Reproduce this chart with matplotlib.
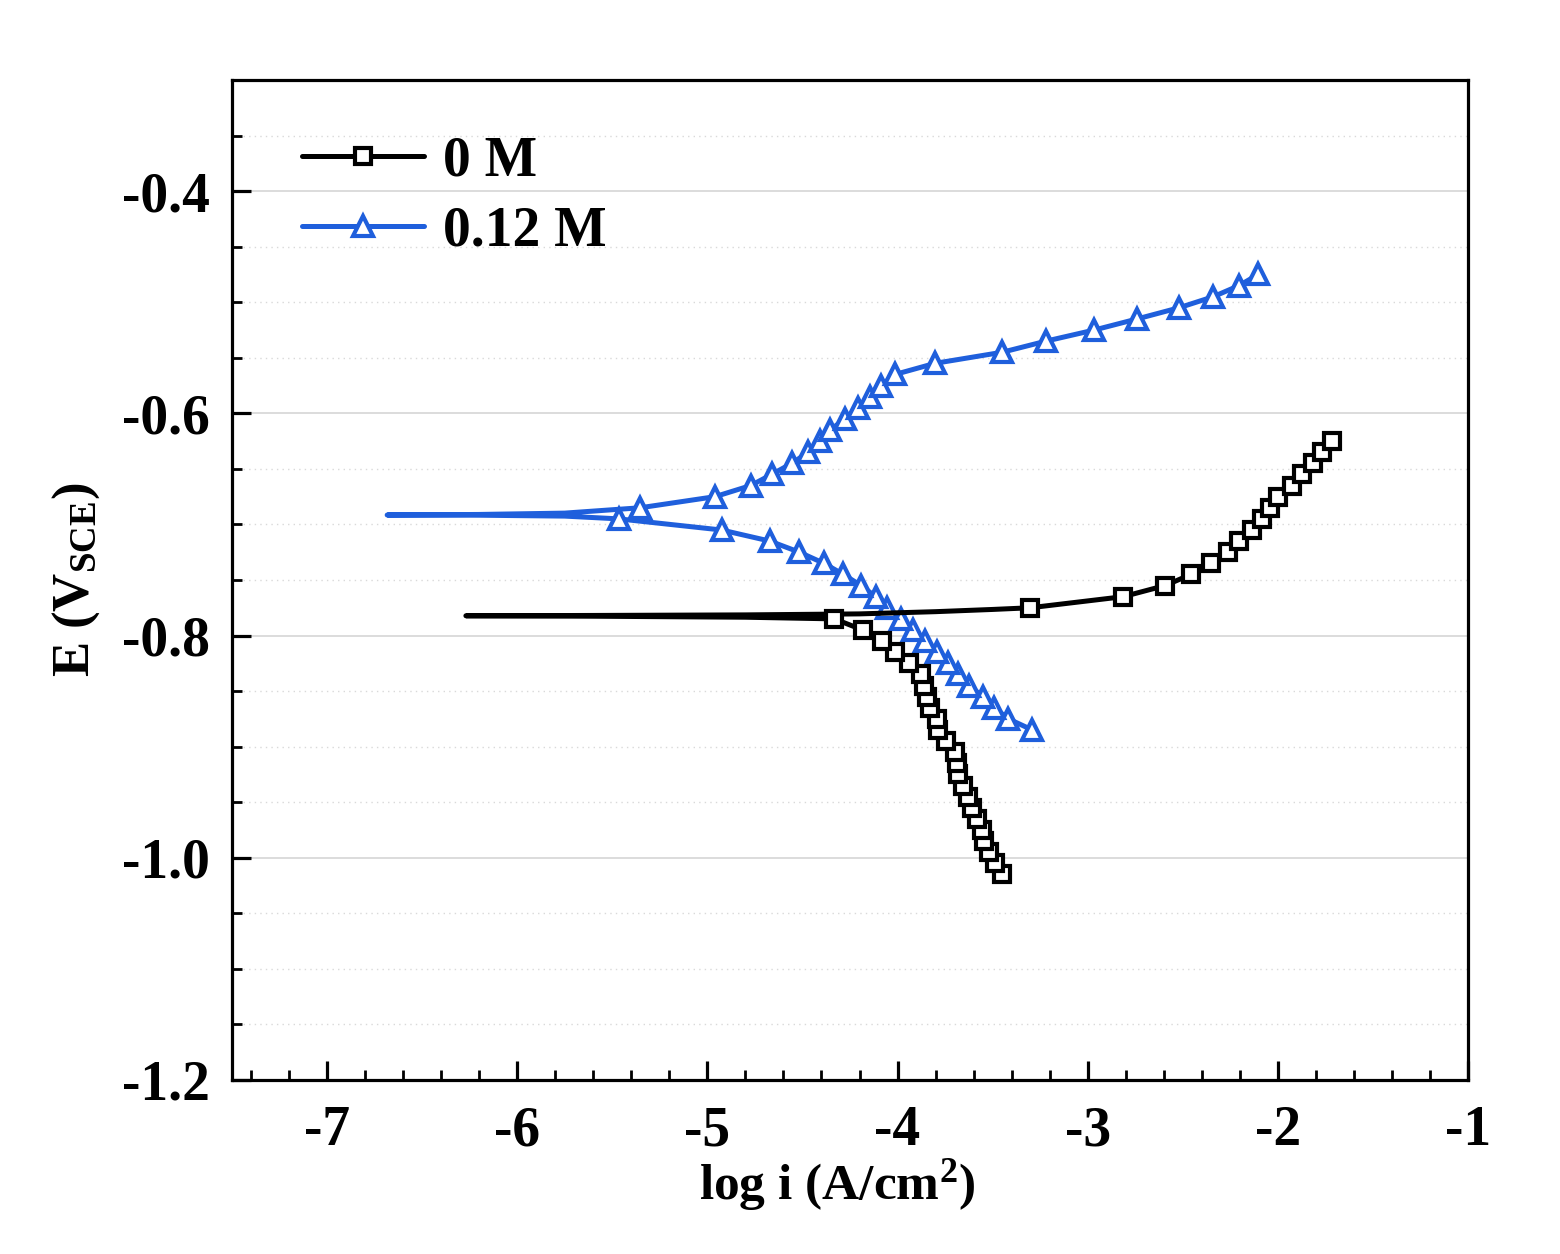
import matplotlib
matplotlib.use("Agg")
import matplotlib.pyplot as plt
import numpy as np
from matplotlib.ticker import MultipleLocator

plt.rcParams['font.family'] = ['Liberation Serif', 'DejaVu Serif']
plt.rcParams['font.weight'] = 'bold'
plt.rcParams['mathtext.fontset'] = 'custom'
plt.rcParams['mathtext.rm'] = 'Liberation Serif:bold'
plt.rcParams['mathtext.bf'] = 'Liberation Serif:bold'
plt.rcParams['mathtext.it'] = 'Liberation Serif:bold'
plt.rcParams['axes.unicode_minus'] = False

# ---------------- data ----------------
series_labels = ["0 M", "0.12 M"]

# 0 M : cathodic branch markers (bottom -> top)
m0_cath_logi = [-3.451, -3.489, -3.519, -3.545, -3.557, -3.580, -3.608, -3.628, -3.654, -3.683,
                -3.689, -3.696, -3.747, -3.787, -3.794, -3.829, -3.847, -3.861, -3.876, -3.941,
                -4.012, -4.083, -4.183, -4.332]
m0_cath_E = [-1.015, -1.005, -0.995, -0.985, -0.975, -0.965, -0.955, -0.945, -0.935, -0.925,
             -0.915, -0.905, -0.895, -0.885, -0.875, -0.865, -0.855, -0.845, -0.835, -0.825,
             -0.815, -0.805, -0.795, -0.785]
# 0 M : line-only points around corrosion potential
m0_mid_logi = [-4.8, -5.6, -6.27, -5.6, -4.8, -4.2, -3.8, -3.5]
m0_mid_E = [-0.7835, -0.7826, -0.7822, -0.7819, -0.7814, -0.7805, -0.7785, -0.7765]
# 0 M : anodic branch markers (bottom -> top)
m0_anod_logi = [-3.303, -2.813, -2.593, -2.457, -2.351, -2.264, -2.203, -2.138, -2.082, -2.041,
                -1.998, -1.927, -1.872, -1.814, -1.766, -1.714]
m0_anod_E = [-0.775, -0.765, -0.755, -0.745, -0.735, -0.725, -0.715, -0.705, -0.695, -0.685,
             -0.675, -0.665, -0.655, -0.645, -0.635, -0.625]

# 0.12 M : cathodic branch markers (bottom -> top)
m12_cath_logi = [-3.291, -3.417, -3.491, -3.552, -3.622, -3.680, -3.733, -3.791, -3.855, -3.917,
                 -3.983, -4.054, -4.115, -4.192, -4.285, -4.387, -4.516, -4.671, -4.925, -5.465]
m12_cath_E = [-0.885, -0.875, -0.865, -0.855, -0.845, -0.835, -0.825, -0.815, -0.805, -0.795,
              -0.785, -0.775, -0.765, -0.755, -0.745, -0.735, -0.725, -0.715, -0.705, -0.695]
# 0.12 M : line-only points around corrosion potential
m12_mid_logi = [-5.75, -6.2, -6.684, -6.2, -5.75]
m12_mid_E = [-0.6925, -0.6917, -0.6915, -0.6910, -0.6898]
# 0.12 M : anodic branch markers (bottom -> top)
m12_anod_logi = [-5.354, -4.960, -4.772, -4.662, -4.556, -4.469, -4.408, -4.355, -4.276, -4.206,
                 -4.145, -4.087, -4.013, -3.803, -3.449, -3.219, -2.965, -2.739, -2.520, -2.339,
                 -2.204, -2.103]
m12_anod_E = [-0.685, -0.675, -0.665, -0.655, -0.645, -0.635, -0.625, -0.615, -0.605, -0.595,
              -0.585, -0.575, -0.565, -0.555, -0.545, -0.535, -0.525, -0.515, -0.505, -0.495,
              -0.485, -0.475]

x_ticks = [-7, -6, -5, -4, -3, -2, -1]
y_ticks = [-1.2, -1.0, -0.8, -0.6, -0.4]
y_ticklabels = ["-1.2", "-1.0", "-0.8", "-0.6", "-0.4"]

# ---------------- plotting ----------------
fig = plt.figure(figsize=(15.6, 12.54), dpi=100)
ax = fig.add_axes([232/1560, 1 - 1080/1254, (1468-232)/1560, (1080-80)/1254])

def build(cl, ce, ml, me, al, ae):
    x = list(cl) + list(ml) + list(al)
    y = list(ce) + list(me) + list(ae)
    marks = list(range(len(cl))) + list(range(len(cl) + len(ml), len(x)))
    return x, y, marks

blue = '#1f5fdc'
x12, y12, mk12 = build(m12_cath_logi, m12_cath_E, m12_mid_logi, m12_mid_E, m12_anod_logi, m12_anod_E)
x0, y0, mk0 = build(m0_cath_logi, m0_cath_E, m0_mid_logi, m0_mid_E, m0_anod_logi, m0_anod_E)

l12, = ax.plot(x12, y12, color=blue, lw=3.6, marker='^', markevery=mk12, ms=15,
               mfc='white', mec=blue, mew=3.0, label=series_labels[1], zorder=3,
               solid_capstyle='round')
l0, = ax.plot(x0, y0, color='black', lw=3.6, marker='s', markevery=mk0, ms=12,
              mfc='white', mec='black', mew=3.0, label=series_labels[0], zorder=4,
              solid_capstyle='round')

ax.set_xlim(-7.5, -1)
ax.set_ylim(-1.2, -0.3)
ax.set_xticks(x_ticks)
ax.set_xticklabels([str(v) for v in x_ticks])
ax.set_yticks(y_ticks)
ax.set_yticklabels(y_ticklabels)
ax.xaxis.set_minor_locator(MultipleLocator(0.2))
ax.yaxis.set_minor_locator(MultipleLocator(0.05))

ax.grid(axis='y', which='major', color='#d9d9d9', lw=1.3, ls='-', zorder=0)
ax.grid(axis='y', which='minor', color='#d9d9d9', lw=1.0, ls=(0, (1, 3)), zorder=0)
ax.set_axisbelow(True)

for s in ax.spines.values():
    s.set_linewidth(2.3)

ax.tick_params(axis='both', which='major', direction='in', length=14, width=2.3,
               labelsize=40, top=False, right=False)
ax.tick_params(axis='both', which='minor', direction='in', length=7, width=2.0,
               top=False, right=False)
ax.tick_params(axis='x', which='major', pad=18)
ax.tick_params(axis='y', which='major', pad=16)
for lab in ax.get_xticklabels() + ax.get_yticklabels():
    lab.set_fontweight('bold')

ax.set_xlabel(r'log i (A/cm$^{2}$)', fontsize=37, fontweight='bold', labelpad=0)
ax.xaxis.set_label_coords(0.4895, -0.077)
ax.xaxis.label.set_verticalalignment('top')
ax.set_ylabel(r'E (V$_{\mathrm{SCE}}$)', fontsize=38, fontweight='bold', labelpad=14)

leg = ax.legend(handles=[l0, l12], loc='upper left', bbox_to_anchor=(0.016, 0.995),
                frameon=False, handlelength=2.2, handletextpad=0.35,
                labelspacing=0.325, prop={'weight': 'bold', 'size': 40})

fig.savefig('out.png', dpi=100)
